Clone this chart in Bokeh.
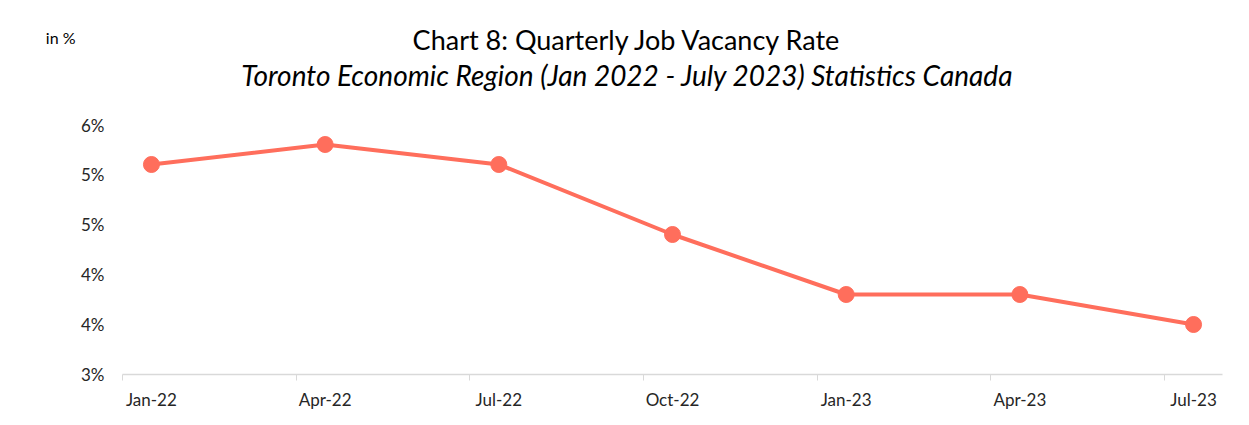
from bokeh.plotting import figure
from bokeh.models import FixedTicker, Range1d
from bokeh.layouts import column
from bokeh.core.properties import value
from bokeh.embed import file_html
from bokeh.resources import INLINE

quarters = ["Jan-22", "Apr-22", "Jul-22", "Oct-22", "Jan-23", "Apr-23", "Jul-23"]
month_index = [0, 3, 6, 9, 12, 15, 18]
vacancy_rate = [5.1, 5.3, 5.1, 4.4, 3.8, 3.8, 3.5]
y_ticks = [3.0, 3.5, 4.0, 4.5, 5.0, 5.5]
y_tick_labels = ["3%", "4%", "4%", "5%", "5%", "6%"]

title_text = "Chart 8: Quarterly Job Vacancy Rate"
subtitle_text = "Toronto Economic Region (Jan 2022 - July 2023) Statistics Canada"
unit_text = "in %"

FONT = "Lato"
COLOR = "#FF6E5C"

# ---- header (titles) ----
HEAD_H = 114
head = figure(frame_width=1100, frame_height=HEAD_H,
              min_border_left=122, min_border_right=27,
              min_border_top=0, min_border_bottom=0,
              x_range=Range1d(122, 1222), y_range=Range1d(HEAD_H, 0),
              x_axis_type=None,
              output_backend="svg", toolbar_location=None)
head.xgrid.visible = False
head.ygrid.visible = False
head.outline_line_color = None
head.text(x=[627], y=[39], text=[title_text], text_align="center",
          text_baseline="middle", text_font=value(FONT), text_font_size="27px",
          text_color="#000000")
head.text(x=[627], y=[74], text=[subtitle_text], text_align="center",
          text_baseline="middle", text_font=value(FONT), text_font_size="28px",
          text_font_style="italic", text_color="#000000")
hy = head.yaxis[0]
hy.ticker = FixedTicker(ticks=[37])
hy.major_label_overrides = {37: unit_text}
hy.axis_line_color = None
hy.major_tick_line_color = None
hy.minor_tick_line_color = None
hy.major_tick_out = 0
hy.major_tick_in = 0
hy.major_label_standoff = 47
hy.major_label_text_font = FONT
hy.major_label_text_font_size = "16px"
hy.major_label_text_color = "#000000"

# ---- chart ----
xs = [m + 0.5 for m in month_index]

p = figure(frame_width=1100, frame_height=250,
           min_border_left=122, min_border_right=27,
           min_border_top=124 - HEAD_H, min_border_bottom=51,
           x_range=Range1d(0, 19), y_range=Range1d(3.0, 5.5),
           output_backend="svg", toolbar_location=None)

p.line(xs, vacancy_rate, line_color=COLOR, line_width=4)
p.scatter(xs, vacancy_rate, size=16, fill_color=COLOR, line_color=COLOR)

p.xgrid.visible = False
p.ygrid.visible = False
p.outline_line_color = None

xa = p.xaxis[0]
xa.ticker = FixedTicker(ticks=xs, minor_ticks=month_index)
xa.major_label_overrides = {x: q for x, q in zip(xs, quarters)}
xa.major_tick_line_color = None
xa.major_tick_out = 6
xa.major_tick_in = 0
xa.minor_tick_line_color = "#D9D9D9"
xa.minor_tick_out = 6
xa.minor_tick_in = 0
xa.minor_tick_line_width = 1
xa.axis_line_color = "#D9D9D9"
xa.axis_line_width = 1.5
xa.major_label_text_font = FONT
xa.major_label_text_font_size = "17px"
xa.major_label_text_color = "#262626"
xa.major_label_standoff = 8

ya = p.yaxis[0]
ya.ticker = FixedTicker(ticks=y_ticks)
ya.major_label_overrides = {t: l for t, l in zip(y_ticks, y_tick_labels)}
ya.axis_line_color = None
ya.major_tick_line_color = None
ya.minor_tick_line_color = None
ya.major_tick_out = 0
ya.major_tick_in = 0
ya.major_label_text_font = FONT
ya.major_label_text_font_size = "17px"
ya.major_label_text_color = "#262626"
ya.major_label_standoff = 18

layout = column(head, p, spacing=0)
open("out.html", "w").write(file_html(layout, INLINE))
